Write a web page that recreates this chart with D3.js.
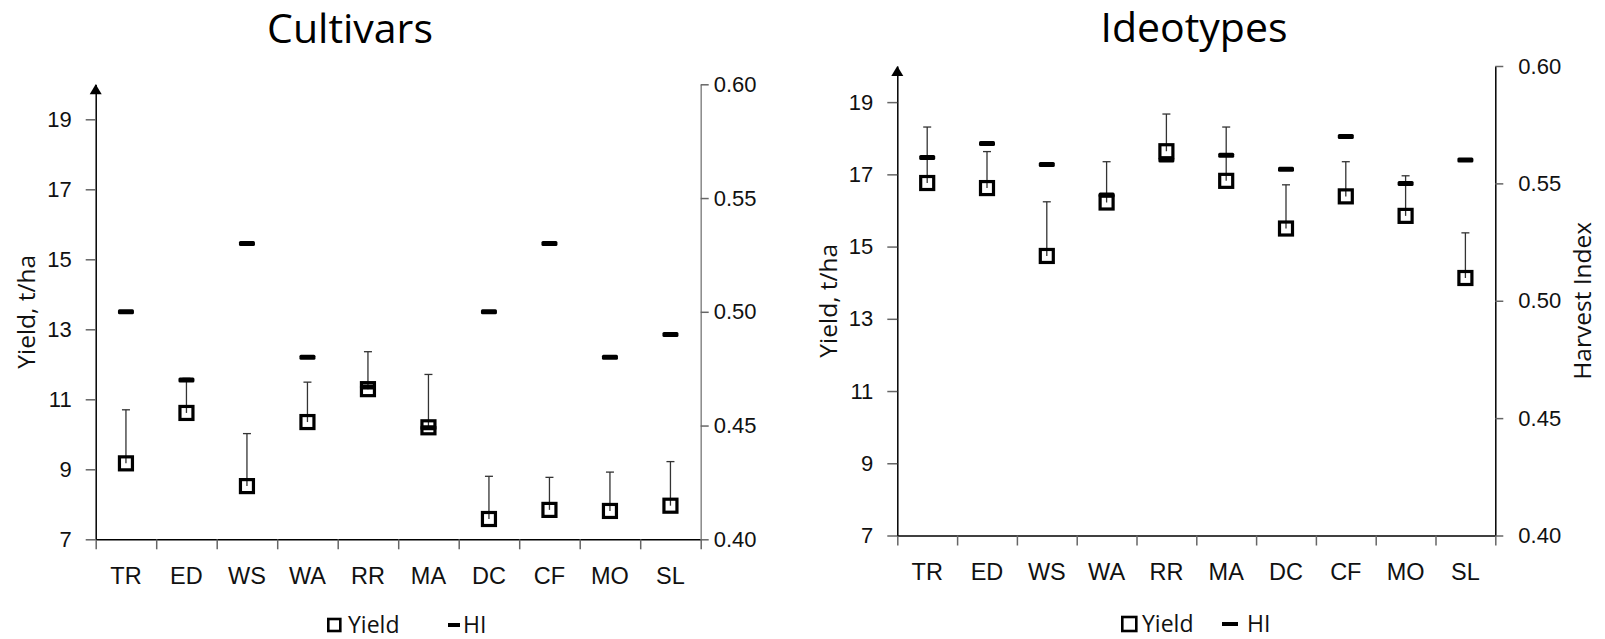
<!DOCTYPE html>
<html>
<head>
<meta charset="utf-8">
<script src="https://cdn.jsdelivr.net/npm/d3@7"></script>
<style>
  body { margin: 0; background: #fff; }
  svg { display: block; font-family: "Open Sans", sans-serif; }
  .tick text { fill: #111; }
</style>
</head>
<body>
<svg id="chart" width="1605" height="639"></svg>
<script>
// categories shared by both panels
var categories = ["TR", "ED", "WS", "WA", "RR", "MA", "DC", "CF", "MO", "SL"];

// Cultivars panel
var cultivarYield = [9.17, 10.61, 8.52, 10.35, 11.29, 10.20, 7.58, 7.84, 7.81, 7.96];
var cultivarErr   = [1.53, 0.99, 1.50, 1.14, 1.07, 1.51, 1.22, 0.93, 1.11, 1.26];
var cultivarHI    = [0.500, 0.470, 0.530, 0.480, 0.467, 0.449, 0.500, 0.530, 0.480, 0.490];

// Ideotypes panel
var ideotypeYield = [16.76, 16.62, 14.74, 16.22, 17.64, 16.82, 15.50, 16.39, 15.85, 14.13];
var ideotypeErr   = [1.55, 1.01, 1.50, 1.13, 1.03, 1.49, 1.21, 0.96, 1.11, 1.25];
var ideotypeHI    = [0.561, 0.567, 0.558, 0.545, 0.560, 0.562, 0.556, 0.570, 0.550, 0.560];

// tick values
var yieldTicks = [7, 9, 11, 13, 15, 17, 19];
var hiTicks = [0.40, 0.45, 0.50, 0.55, 0.60];

var svg = d3.select("#chart");

function drawPanel(p) {
	var g = svg.append("g");

	var y = d3.scaleLinear().domain([7, 20]).range([p.bottom, p.top]);
	var yHI = d3.scaleLinear().domain([0.40, 0.60]).range([p.bottom, p.top]);
	var xBand = d3.scaleBand().domain(categories).range([p.left, p.right]);
	var xEdge = d3.scaleLinear().domain([0, categories.length]).range([p.left, p.right]);

	// title
	g.append("text")
		.attr("x", p.titleX).attr("y", p.titleY)
		.attr("text-anchor", "middle")
		.style("font-size", "41px").style("fill", "#000")
		.text(p.title);

	// x axis: boundary ticks
	var gx = g.append("g")
		.attr("transform", "translate(0," + p.bottom + ")")
		.call(d3.axisBottom(xEdge).ticks(categories.length).tickSize(10).tickSizeOuter(0).tickFormat(""));
	gx.select(".domain").attr("stroke", "#000").attr("stroke-width", 1.5);
	gx.selectAll(".tick line").attr("stroke", "#666").attr("stroke-width", 1.5);

	// x axis labels at band centres
	var gxl = g.append("g")
		.attr("transform", "translate(0," + p.bottom + ")")
		.call(d3.axisBottom(xBand).tickSize(0).tickPadding(28));
	gxl.select(".domain").remove();
	gxl.selectAll("text").style("font-size", "23.5px").attr("font-family", null);

	// left yield axis
	var gy = g.append("g")
		.attr("transform", "translate(" + p.left + ",0)")
		.call(d3.axisLeft(y).tickValues(yieldTicks).tickSize(10).tickPadding(14).tickSizeOuter(0));
	gy.select(".domain").attr("stroke", "#000").attr("stroke-width", 1.5);
	gy.selectAll(".tick line").attr("stroke", "#666").attr("stroke-width", 1.5);
	gy.selectAll("text").style("font-size", "22px").attr("font-family", null);

	// arrow head at top of the yield axis
	var tip = y(20);
	g.append("path")
		.attr("d", "M" + p.left + "," + tip + "L" + (p.left - 6) + "," + (tip + 10) + "L" + (p.left + 6) + "," + (tip + 10) + "Z")
		.attr("fill", "#000");

	// right HI axis
	var gr = g.append("g")
		.attr("transform", "translate(" + p.right + ",0)")
		.call(d3.axisRight(yHI).tickValues(hiTicks).tickSize(8).tickPadding(p.hiPad).tickSizeOuter(0).tickFormat(d3.format(".2f")));
	gr.select(".domain").attr("stroke", p.hiAxisColor).attr("stroke-width", 1.5);
	gr.selectAll(".tick line").attr("stroke", "#666").attr("stroke-width", 1.5);
	gr.selectAll("text").style("font-size", "22px").attr("font-family", null);

	// axis titles
	g.append("text")
		.attr("transform", "translate(" + (p.left - 69) + "," + ((p.top + p.bottom) / 2) + ") rotate(-90)")
		.attr("text-anchor", "middle").attr("dy", "0.35em")
		.style("font-size", "24.5px").style("fill", "#111")
		.text("Yield, t/ha");
	if (p.hiTitle) {
		g.append("text")
			.attr("transform", "translate(" + (p.right + 87) + "," + ((p.top + p.bottom) / 2) + ") rotate(-90)")
			.attr("text-anchor", "middle").attr("dy", "0.35em")
			.style("font-size", "24.5px").style("fill", "#111")
			.text("Harvest Index");
	}

	var rows = categories.map(function (c, i) {
		return { cat: c, yield: p.yield[i], err: p.err[i], hi: p.hi[i] };
	});
	var cx = function (d) { return xBand(d.cat) + xBand.bandwidth() / 2; };

	// error bars (upper only)
	var eb = g.append("g").selectAll("g").data(rows).enter().append("g");
	eb.append("line")
		.attr("x1", cx).attr("x2", cx)
		.attr("y1", function (d) { return y(d.yield); })
		.attr("y2", function (d) { return y(d.yield + d.err); })
		.attr("stroke", "#333").attr("stroke-width", 1.3);
	eb.append("line")
		.attr("x1", function (d) { return cx(d) - 4; })
		.attr("x2", function (d) { return cx(d) + 4; })
		.attr("y1", function (d) { return y(d.yield + d.err); })
		.attr("y2", function (d) { return y(d.yield + d.err); })
		.attr("stroke", "#333").attr("stroke-width", 1.3);

	// yield squares
	g.append("g").selectAll("rect").data(rows).enter().append("rect")
		.attr("x", function (d) { return cx(d) - 6.5; })
		.attr("y", function (d) { return y(d.yield) - 6.5; })
		.attr("width", 13).attr("height", 13)
		.attr("fill", "none").attr("stroke", "#000").attr("stroke-width", 3.2);

	// HI dashes
	g.append("g").selectAll("rect").data(rows).enter().append("rect")
		.attr("x", function (d) { return cx(d) - 8; })
		.attr("y", function (d) { return yHI(d.hi) - 2.5; })
		.attr("width", 16).attr("height", 5).attr("rx", 1.5)
		.attr("fill", "#000");

	// legend
	var s = p.legendBox;
	var lg = g.append("g").attr("transform", "translate(" + p.legendX + "," + p.legendY + ")");
	lg.append("rect").attr("x", 1.3).attr("y", -s / 2).attr("width", s).attr("height", s)
		.attr("fill", "none").attr("stroke", "#000").attr("stroke-width", 2.6);
	lg.append("text").attr("x", 21).attr("dy", "0.35em").style("font-size", "23px").style("fill", "#111").text("Yield");
	lg.append("rect").attr("x", p.legendDash).attr("y", -2).attr("width", p.dashW).attr("height", 4).attr("fill", "#000");
	lg.append("text").attr("x", p.legendHI).attr("dy", "0.35em").style("font-size", "23px").style("fill", "#111").text("HI");
}

drawPanel({
	title: "Cultivars", titleX: 350, titleY: 43,
	left: 95.7, right: 700.7, top: 84.3, bottom: 539.3,
	hiPad: 5, hiAxisColor: "#888", hiTitle: false,
	yield: cultivarYield, err: cultivarErr, hi: cultivarHI,
	legendX: 327, legendY: 625, legendBox: 12, legendDash: 121, dashW: 12, legendHI: 136
});

drawPanel({
	title: "Ideotypes", titleX: 1194, titleY: 42,
	left: 897.3, right: 1495.3, top: 66, bottom: 535.5,
	hiPad: 15, hiAxisColor: "#000", hiTitle: true,
	yield: ideotypeYield, err: ideotypeErr, hi: ideotypeHI,
	legendX: 1121, legendY: 624, legendBox: 14, legendDash: 101, dashW: 16, legendHI: 126
});
</script>
</body>
</html>
